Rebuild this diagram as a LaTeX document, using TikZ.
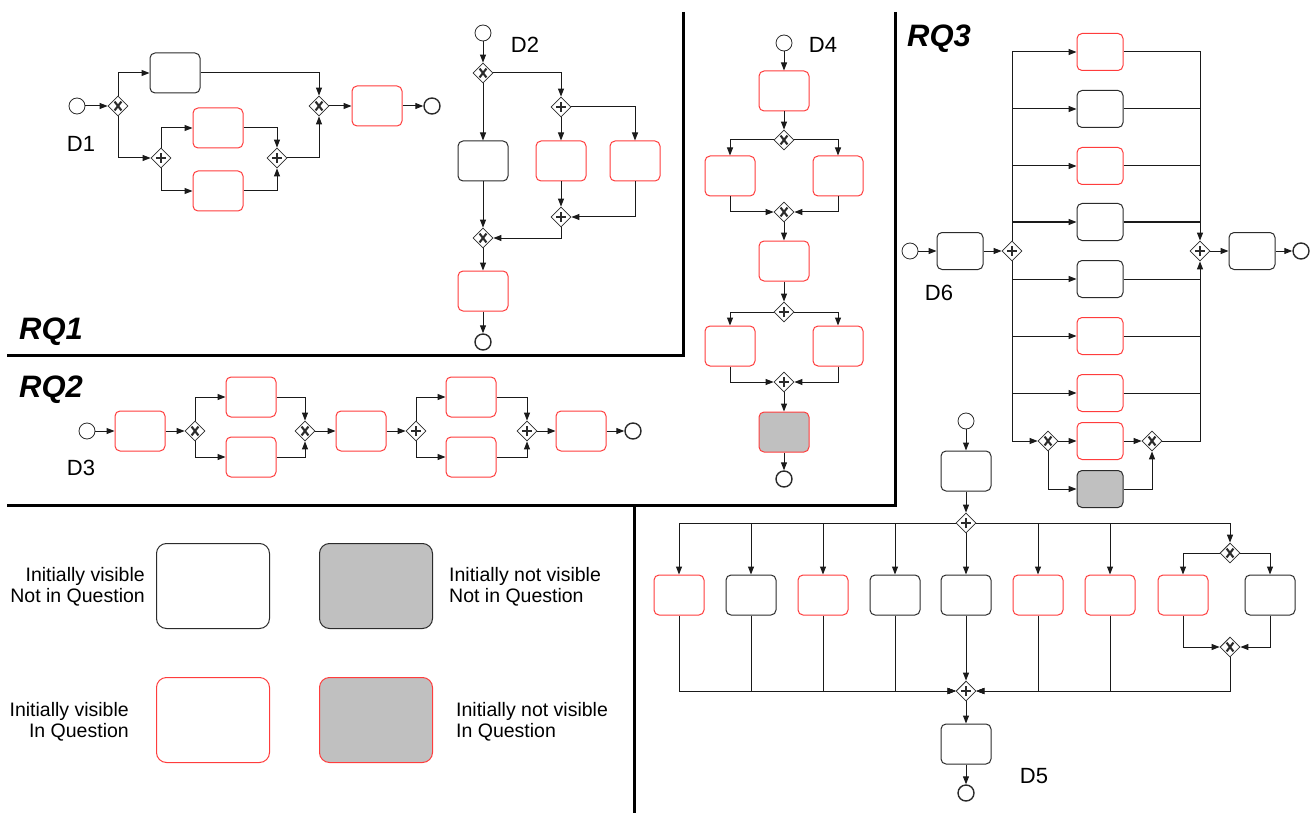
\documentclass[tikz,border=0pt]{standalone}
\usepackage{fontspec}
\setmainfont{Liberation Sans}
\usetikzlibrary{arrows.meta,positioning,shapes.geometric}
\definecolor{bpmnInk}{HTML}{2B2B2B}
\definecolor{bpmnLine}{HTML}{1A1A1A}
\definecolor{bpmnRed}{HTML}{FF3C3C}
\definecolor{bpmnGray}{HTML}{C0C0C0}

\begin{document}
\begin{tikzpicture}[
  x=1pt,y=-1pt,
  on grid,
  font=\fontsize{22}{26}\selectfont,
  task/.style={draw=#1,rounded corners=5pt,minimum width=50pt,minimum height=40pt,inner sep=0pt,line width=1pt},
  task/.default=bpmnInk,
  narrow/.style={minimum width=46pt,minimum height=37pt},
  hid/.style={fill=bpmnGray},
  gate/.style={diamond,draw=bpmnInk,fill=white,minimum size=20pt,inner sep=0pt,line width=0.8pt},
  xorgate/.style={gate,path picture={
    \draw[line width=2.1pt,bpmnInk]
      ([shift={(-3.4pt,-4.4pt)}]path picture bounding box.center) -- ([shift={(3.4pt,4.4pt)}]path picture bounding box.center)
      ([shift={(-3.4pt,4.4pt)}]path picture bounding box.center) -- ([shift={(3.4pt,-4.4pt)}]path picture bounding box.center);}},
  andgate/.style={gate,path picture={
    \draw[line width=1.9pt,bpmnInk]
      ([xshift=-5pt]path picture bounding box.center) -- ([xshift=5pt]path picture bounding box.center)
      ([yshift=-5pt]path picture bounding box.center) -- ([yshift=5pt]path picture bounding box.center);}},
  startev/.style={circle,draw=bpmnInk,minimum size=16pt,inner sep=0pt,line width=0.8pt},
  endev/.style={startev,line width=1.4pt},
  flow/.style={-{Triangle[length=8pt,width=6pt]},line width=1pt,bpmnLine},
  link/.style={line width=1pt,bpmnLine},
  sep/.style={line width=3pt,black},
  rq/.style={font=\fontsize{31}{36}\selectfont\bfseries\itshape,inner sep=0pt},
  legend/.style={task=#1,minimum width=113pt,minimum height=85pt,rounded corners=10pt},
  legend/.default=bpmnInk,
  note/.style={font=\fontsize{19.5}{21.5}\selectfont,inner sep=0pt}
]
  \useasboundingbox (0,0) rectangle (1314,813);

  % panels
  \draw[sep] (683,12) -- (683,355) -- (7,355);
  \draw[sep] (895,12) -- (895,505) -- (7,505);
  \draw[sep] (634,505) -- (634,813);
  \node[rq,anchor=west] (rq1) at (19,332) {RQ1};
  \node[rq,anchor=west] (rq2) at (19,390) {RQ2};
  \node[rq,anchor=west] (rq3) at (907,39) {RQ3};

  % D1
  \node[startev] (s1) at (77,106) {};
  \node[xorgate,right=41pt of s1] (x1) {};
  \node[task,above right=33pt and 57pt of x1] (t1a) {};
  \node[andgate,below right=52pt and 43pt of x1] (p1) {};
  \node[task=bpmnRed,above right=30pt and 57pt of p1] (t1b) {};
  \node[task=bpmnRed,below right=33pt and 57pt of p1] (t1c) {};
  \node[andgate,right=116pt of p1] (q1) {};
  \node[xorgate,right=201pt of x1] (y1) {};
  \node[task=bpmnRed,right=58pt of y1] (t1d) {};
  \node[endev,right=55pt of t1d] (e1) {};
  \node (d1lab) at (81,144) {D1};
  \draw[flow] (s1) -- (x1);
  \draw[flow] (x1) |- (t1a);
  \draw[flow] (x1) |- (p1);
  \draw[flow] (p1) |- (t1b);
  \draw[flow] (p1) |- (t1c);
  \draw[flow] (t1b) -| (q1);
  \draw[flow] (t1c) -| (q1);
  \draw[flow] (q1) -| (y1);
  \draw[flow] (t1a) -| (y1);
  \draw[flow] (y1) -- (t1d);
  \draw[flow] (t1d) -- (e1);

  % D2
  \node[startev] (s2) at (483,33) {};
  \node[xorgate,below=40pt of s2] (x2) {};
  \node[task,below=88pt of x2] (t2a) {};
  \node[andgate,below right=34pt and 78pt of x2] (p2) {};
  \node[task=bpmnRed,below=54pt of p2] (t2b) {};
  \node[task=bpmnRed,right=74pt of t2b] (t2c) {};
  \node[andgate,below=56pt of t2b] (q2) {};
  \node[xorgate,below=77pt of t2a] (y2) {};
  \node[task=bpmnRed,below=53pt of y2] (t2d) {};
  \node[endev,below=51pt of t2d] (e2) {};
  \node (d2lab) at (525,45) {D2};
  \draw[flow] (s2) -- (x2);
  \draw[flow] (x2) -- (t2a);
  \draw[flow] (x2) -| (p2);
  \draw[flow] (p2) -- (t2b);
  \draw[flow] (p2) -| (t2c);
  \draw[flow] (t2b) -- (q2);
  \draw[flow] (t2c) |- (q2);
  \draw[flow] (q2) |- (y2);
  \draw[flow] (t2a) -- (y2);
  \draw[flow] (y2) -- (t2d);
  \draw[flow] (t2d) -- (e2);

  % D3
  \node[startev] (s3) at (87,431) {};
  \node[task=bpmnRed,right=53pt of s3] (t3a) {};
  \node[xorgate,right=55pt of t3a] (x3) {};
  \node[task=bpmnRed,above right=34pt and 56pt of x3] (t3b) {};
  \node[task=bpmnRed,below right=26pt and 56pt of x3] (t3c) {};
  \node[xorgate,right=110pt of x3] (y3) {};
  \node[task=bpmnRed,right=56pt of y3] (t3d) {};
  \node[andgate,right=55pt of t3d] (p3) {};
  \node[task=bpmnRed,above right=34pt and 55pt of p3] (t3e) {};
  \node[task=bpmnRed,below right=26pt and 55pt of p3] (t3f) {};
  \node[andgate,right=111pt of p3] (q3) {};
  \node[task=bpmnRed,right=54pt of q3] (t3g) {};
  \node[endev,right=52pt of t3g] (e3) {};
  \node (d3lab) at (81,468) {D3};
  \draw[flow] (s3) -- (t3a);
  \draw[flow] (t3a) -- (x3);
  \draw[flow] (x3) |- (t3b);
  \draw[flow] (x3) |- (t3c);
  \draw[flow] (t3b) -| (y3);
  \draw[flow] (t3c) -| (y3);
  \draw[flow] (y3) -- (t3d);
  \draw[flow] (t3d) -- (p3);
  \draw[flow] (p3) |- (t3e);
  \draw[flow] (p3) |- (t3f);
  \draw[flow] (t3e) -| (q3);
  \draw[flow] (t3f) -| (q3);
  \draw[flow] (q3) -- (t3g);
  \draw[flow] (t3g) -- (e3);

  % D4
  \node[startev] (s4) at (784,43) {};
  \node[task=bpmnRed,below=48pt of s4] (t4a) {};
  \node[xorgate,below=49pt of t4a] (x4) {};
  \node[task=bpmnRed,below left=36pt and 54pt of x4] (t4b) {};
  \node[task=bpmnRed,below right=36pt and 54pt of x4] (t4c) {};
  \node[xorgate,below=72pt of x4] (y4) {};
  \node[task=bpmnRed,below=49pt of y4] (t4d) {};
  \node[andgate,below=51pt of t4d] (p4) {};
  \node[task=bpmnRed,below left=34pt and 54pt of p4] (t4e) {};
  \node[task=bpmnRed,below right=34pt and 54pt of p4] (t4f) {};
  \node[andgate,below=70pt of p4] (q4) {};
  \node[task=bpmnRed,hid,below=50pt of q4] (t4g) {};
  \node[endev,below=47pt of t4g] (e4) {};
  \node (d4lab) at (823,45) {D4};
  \draw[flow] (s4) -- (t4a);
  \draw[flow] (t4a) -- (x4);
  \draw[flow] (x4) -| (t4b);
  \draw[flow] (x4) -| (t4c);
  \draw[flow] (t4b) |- (y4);
  \draw[flow] (t4c) |- (y4);
  \draw[flow] (y4) -- (t4d);
  \draw[flow] (t4d) -- (p4);
  \draw[flow] (p4) -| (t4e);
  \draw[flow] (p4) -| (t4f);
  \draw[flow] (t4e) |- (q4);
  \draw[flow] (t4f) |- (q4);
  \draw[flow] (q4) -- (t4g);
  \draw[flow] (t4g) -- (e4);

  % D6
  \node[startev] (s6) at (910,251) {};
  \node[task,narrow,right=50pt of s6] (t6a) {};
  \node[andgate,right=52pt of t6a] (p6) {};
  \node[task=bpmnRed,narrow,above right=199pt and 88pt of p6] (r1) {};
  \node[task,narrow,below=57pt of r1] (r2) {};
  \node[task=bpmnRed,narrow,below=57pt of r2] (r3) {};
  \node[task,narrow,below=56pt of r3] (r4) {};
  \node[task,narrow,below=57pt of r4] (r5) {};
  \node[task=bpmnRed,narrow,below=57pt of r5] (r6) {};
  \node[task=bpmnRed,narrow,below=57pt of r6] (r7) {};
  \node[task=bpmnRed,narrow,below=48pt of r7] (r8) {};
  \node[task,narrow,hid,below=48pt of r8] (r9) {};
  \node[xorgate,left=52pt of r8] (x6) {};
  \node[xorgate,right=52pt of r8] (y6) {};
  \node[andgate,right=188pt of p6] (q6) {};
  \node[task,narrow,right=52pt of q6] (t6b) {};
  \node[endev,right=49pt of t6b] (e6) {};
  \node (d6lab) at (939,293) {D6};
  \draw[flow] (s6) -- (t6a);
  \draw[flow] (t6a) -- (p6);
  \foreach \r in {r1,r2,r3,r4,r5,r6,r7}
    \draw[flow] (p6) |- (\r);
  \draw[flow] (p6) |- (x6);
  \draw[flow] (x6) -- (r8);
  \draw[flow] (x6) |- (r9);
  \draw[flow] (r8) -- (y6);
  \draw[flow] (r9) -| (y6);
  \draw[flow] (r1) -| (q6);
  \foreach \r in {r2,r3,r4,r5,r6,r7}
    \draw[link] (\r.east) -- (\r.east -| q6);
  \draw[flow] (y6) -| (q6);
  \draw[flow] (q6) -- (t6b);
  \draw[flow] (t6b) -- (e6);

  % D5
  \node[startev] (s5) at (966,421) {};
  \node[task,below=50pt of s5] (t5a) {};
  \node[andgate,below=52pt of t5a] (p5) {};
  \node[task=bpmnRed,below left=72pt and 287pt of p5] (c1) {};
  \node[task,right=72pt of c1] (c2) {};
  \node[task=bpmnRed,right=72pt of c2] (c3) {};
  \node[task,right=72pt of c3] (c4) {};
  \node[task,right=71pt of c4] (c5) {};
  \node[task=bpmnRed,right=72pt of c5] (c6) {};
  \node[task=bpmnRed,right=72pt of c6] (c7) {};
  \node[task=bpmnRed,right=73pt of c7] (c8) {};
  \node[task,right=87pt of c8] (c9) {};
  \node[xorgate,above right=42pt and 47pt of c8] (x5) {};
  \node[xorgate,below right=52pt and 47pt of c8] (y5) {};
  \node[andgate,below=96pt of c5] (q5) {};
  \node[task,below=53pt of q5] (t5b) {};
  \node[endev,below=49pt of t5b] (e5) {};
  \node (d5lab) at (1034,776) {D5};
  \draw[flow] (s5) -- (t5a);
  \draw[flow] (t5a) -- (p5);
  \foreach \c in {c1,c2,c3,c4,c6,c7}
    \draw[flow] (p5) -| (\c);
  \draw[flow] (p5) -- (c5);
  \draw[flow] (p5) -| (x5);
  \draw[flow] (x5) -| (c8);
  \draw[flow] (x5) -| (c9);
  \draw[flow] (c8) |- (y5);
  \draw[flow] (c9) |- (y5);
  \foreach \c in {c1,c2,c3,c4,c6,c7}
    \draw[flow] (\c) |- (q5);
  \draw[flow] (c5) -- (q5);
  \draw[flow] (y5) |- (q5);
  \draw[flow] (q5) -- (t5b);
  \draw[flow] (t5b) -- (e5);

  % legend
  \node[legend] (l1) at (213,586) {};
  \node[legend,hid,right=163pt of l1] (l2) {};
  \node[legend=bpmnRed,below=134pt of l1] (l3) {};
  \node[legend=bpmnRed,hid,right=163pt of l3] (l4) {};
  \node[note,anchor=east,align=right] (n1) at (145,587) {Initially visible\\Not in Question};
  \node[note,anchor=west,align=left] (n2) at (449,587) {Initially not visible\\Not in Question};
  \node[note,anchor=east,align=right] (n3) at (129,722) {Initially visible\\In Question};
  \node[note,anchor=west,align=left] (n4) at (456,722) {Initially not visible\\In Question};
\end{tikzpicture}
\end{document}
